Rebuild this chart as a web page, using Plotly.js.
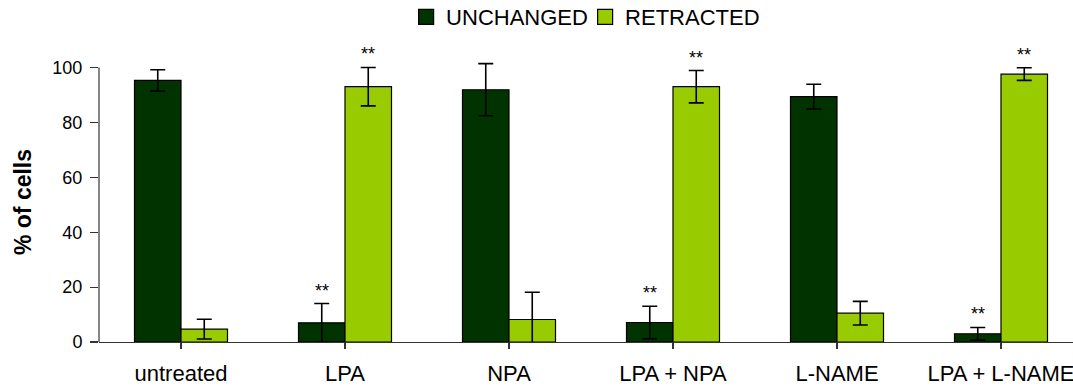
<!DOCTYPE html>
<html>
<head>
<meta charset="utf-8">
<script src="https://cdn.plot.ly/plotly-3.0.1.min.js"></script>
<style>html,body{margin:0;padding:0;background:#fff;overflow:hidden}#chart{width:1073px;height:387px}</style>
</head>
<body>
<div id="chart"></div>
<script>
const categories = ["untreated", "LPA", "NPA", "LPA + NPA", "L-NAME", "LPA + L-NAME"];
const unchanged = [95.3, 7.0, 91.9, 7.1, 89.4, 3.0];
const unchangedErr = [3.9, 7.0, 9.5, 5.9, 4.5, 2.3];
const retracted = [4.7, 93.0, 8.2, 93.0, 10.5, 97.6];
const retractedErr = [3.6, 7.0, 9.9, 5.9, 4.3, 2.3];
const sigUnchanged = ["", "**", "", "**", "", "**"];
const sigRetracted = ["", "**", "", "**", "", "**"];
const seriesNames = ["UNCHANGED", "RETRACTED"];
const seriesColors = ["#003300", "#99CC00"];
const yTicks = [0, 20, 40, 60, 80, 100];

const FONT = "Liberation Sans, Arial, sans-serif";
const bargap = 0.433;
const xIdx = categories.map((c, i) => i);

function barTrace(name, y, err, color) {
  return {
    type: "bar", name: name, x: xIdx, y: y, showlegend: false,
    marker: {color: color, line: {color: "#000", width: 1.2}},
    error_y: {type: "data", array: err, visible: true, color: "#000", thickness: 1.6, width: 7.5},
    cliponaxis: false,
    hoverinfo: "skip"
  };
}
function legendTrace(name, color) {
  return {
    type: "scatter", mode: "markers", name: name, x: [null], y: [null], showlegend: true,
    marker: {symbol: "square", size: 15, color: color, line: {color: "#000", width: 1.2}},
    hoverinfo: "skip"
  };
}

const traces = [
  barTrace(seriesNames[0], unchanged, unchangedErr, seriesColors[0]),
  barTrace(seriesNames[1], retracted, retractedErr, seriesColors[1]),
  legendTrace(seriesNames[0], seriesColors[0]),
  legendTrace(seriesNames[1], seriesColors[1])
];

const off = (1 - bargap) / 4;
const annotations = [];
categories.forEach((c, i) => {
  if (sigUnchanged[i]) annotations.push({x: i - off, y: unchanged[i] + unchangedErr[i], xref: "x", yref: "y",
    text: sigUnchanged[i], showarrow: false, yanchor: "bottom", yshift: 1, font: {family: FONT, size: 18, color: "#000"}});
  if (sigRetracted[i]) annotations.push({x: i + off, y: retracted[i] + retractedErr[i], xref: "x", yref: "y",
    text: sigRetracted[i], showarrow: false, yanchor: "bottom", yshift: 1, font: {family: FONT, size: 18, color: "#000"}});
});

const layout = {
  width: 1073, height: 387,
  margin: {l: 99, r: 0, t: 62, b: 45, pad: 0, autoexpand: false},
  paper_bgcolor: "#fff", plot_bgcolor: "#fff",
  font: {family: FONT, color: "#000"},
  barmode: "group", bargap: bargap, bargroupgap: 0,
  showlegend: true,
  legend: {orientation: "h", x: 0.4991, xanchor: "center", y: 1.1607, yanchor: "middle",
    font: {family: FONT, size: 22, color: "#000"}, bgcolor: "rgba(0,0,0,0)", itemclick: false,
    tracegroupgap: 0, entrywidth: 134, entrywidthmode: "pixels"},
  xaxis: {
    range: [-0.5, 5.439], tickmode: "array", tickvals: xIdx, ticktext: categories,
    showline: true, linecolor: "#333", linewidth: 1.2, ticks: "outside", tickson: "boundaries",
    ticklen: 6, tickcolor: "#333", tickwidth: 1.2, showgrid: false, zeroline: false,
    tickfont: {family: FONT, size: 22, color: "#000"}, ticklabelstandoff: 5, ticklabeloverflow: "allow"
  },
  yaxis: {
    range: [0, 102], tickmode: "array", tickvals: yTicks,
    showline: false, ticks: "outside", ticklen: 8,
    tickcolor: "#333", tickwidth: 1.2, showgrid: false, zeroline: false,
    tickfont: {family: FONT, size: 18, color: "#000"}, ticklabelstandoff: 4,
    title: {text: "% of cells", font: {family: FONT, size: 23, color: "#000", weight: 700}, standoff: 14}
  },
  shapes: [{type: "line", xref: "paper", yref: "y", x0: 0, x1: 0, y0: yTicks[0], y1: yTicks[yTicks.length - 1],
    line: {color: "#333", width: 1.2}}],
  annotations: annotations
};

Plotly.newPlot("chart", traces, layout, {staticPlot: true, displayModeBar: false});
</script>
</body>
</html>
